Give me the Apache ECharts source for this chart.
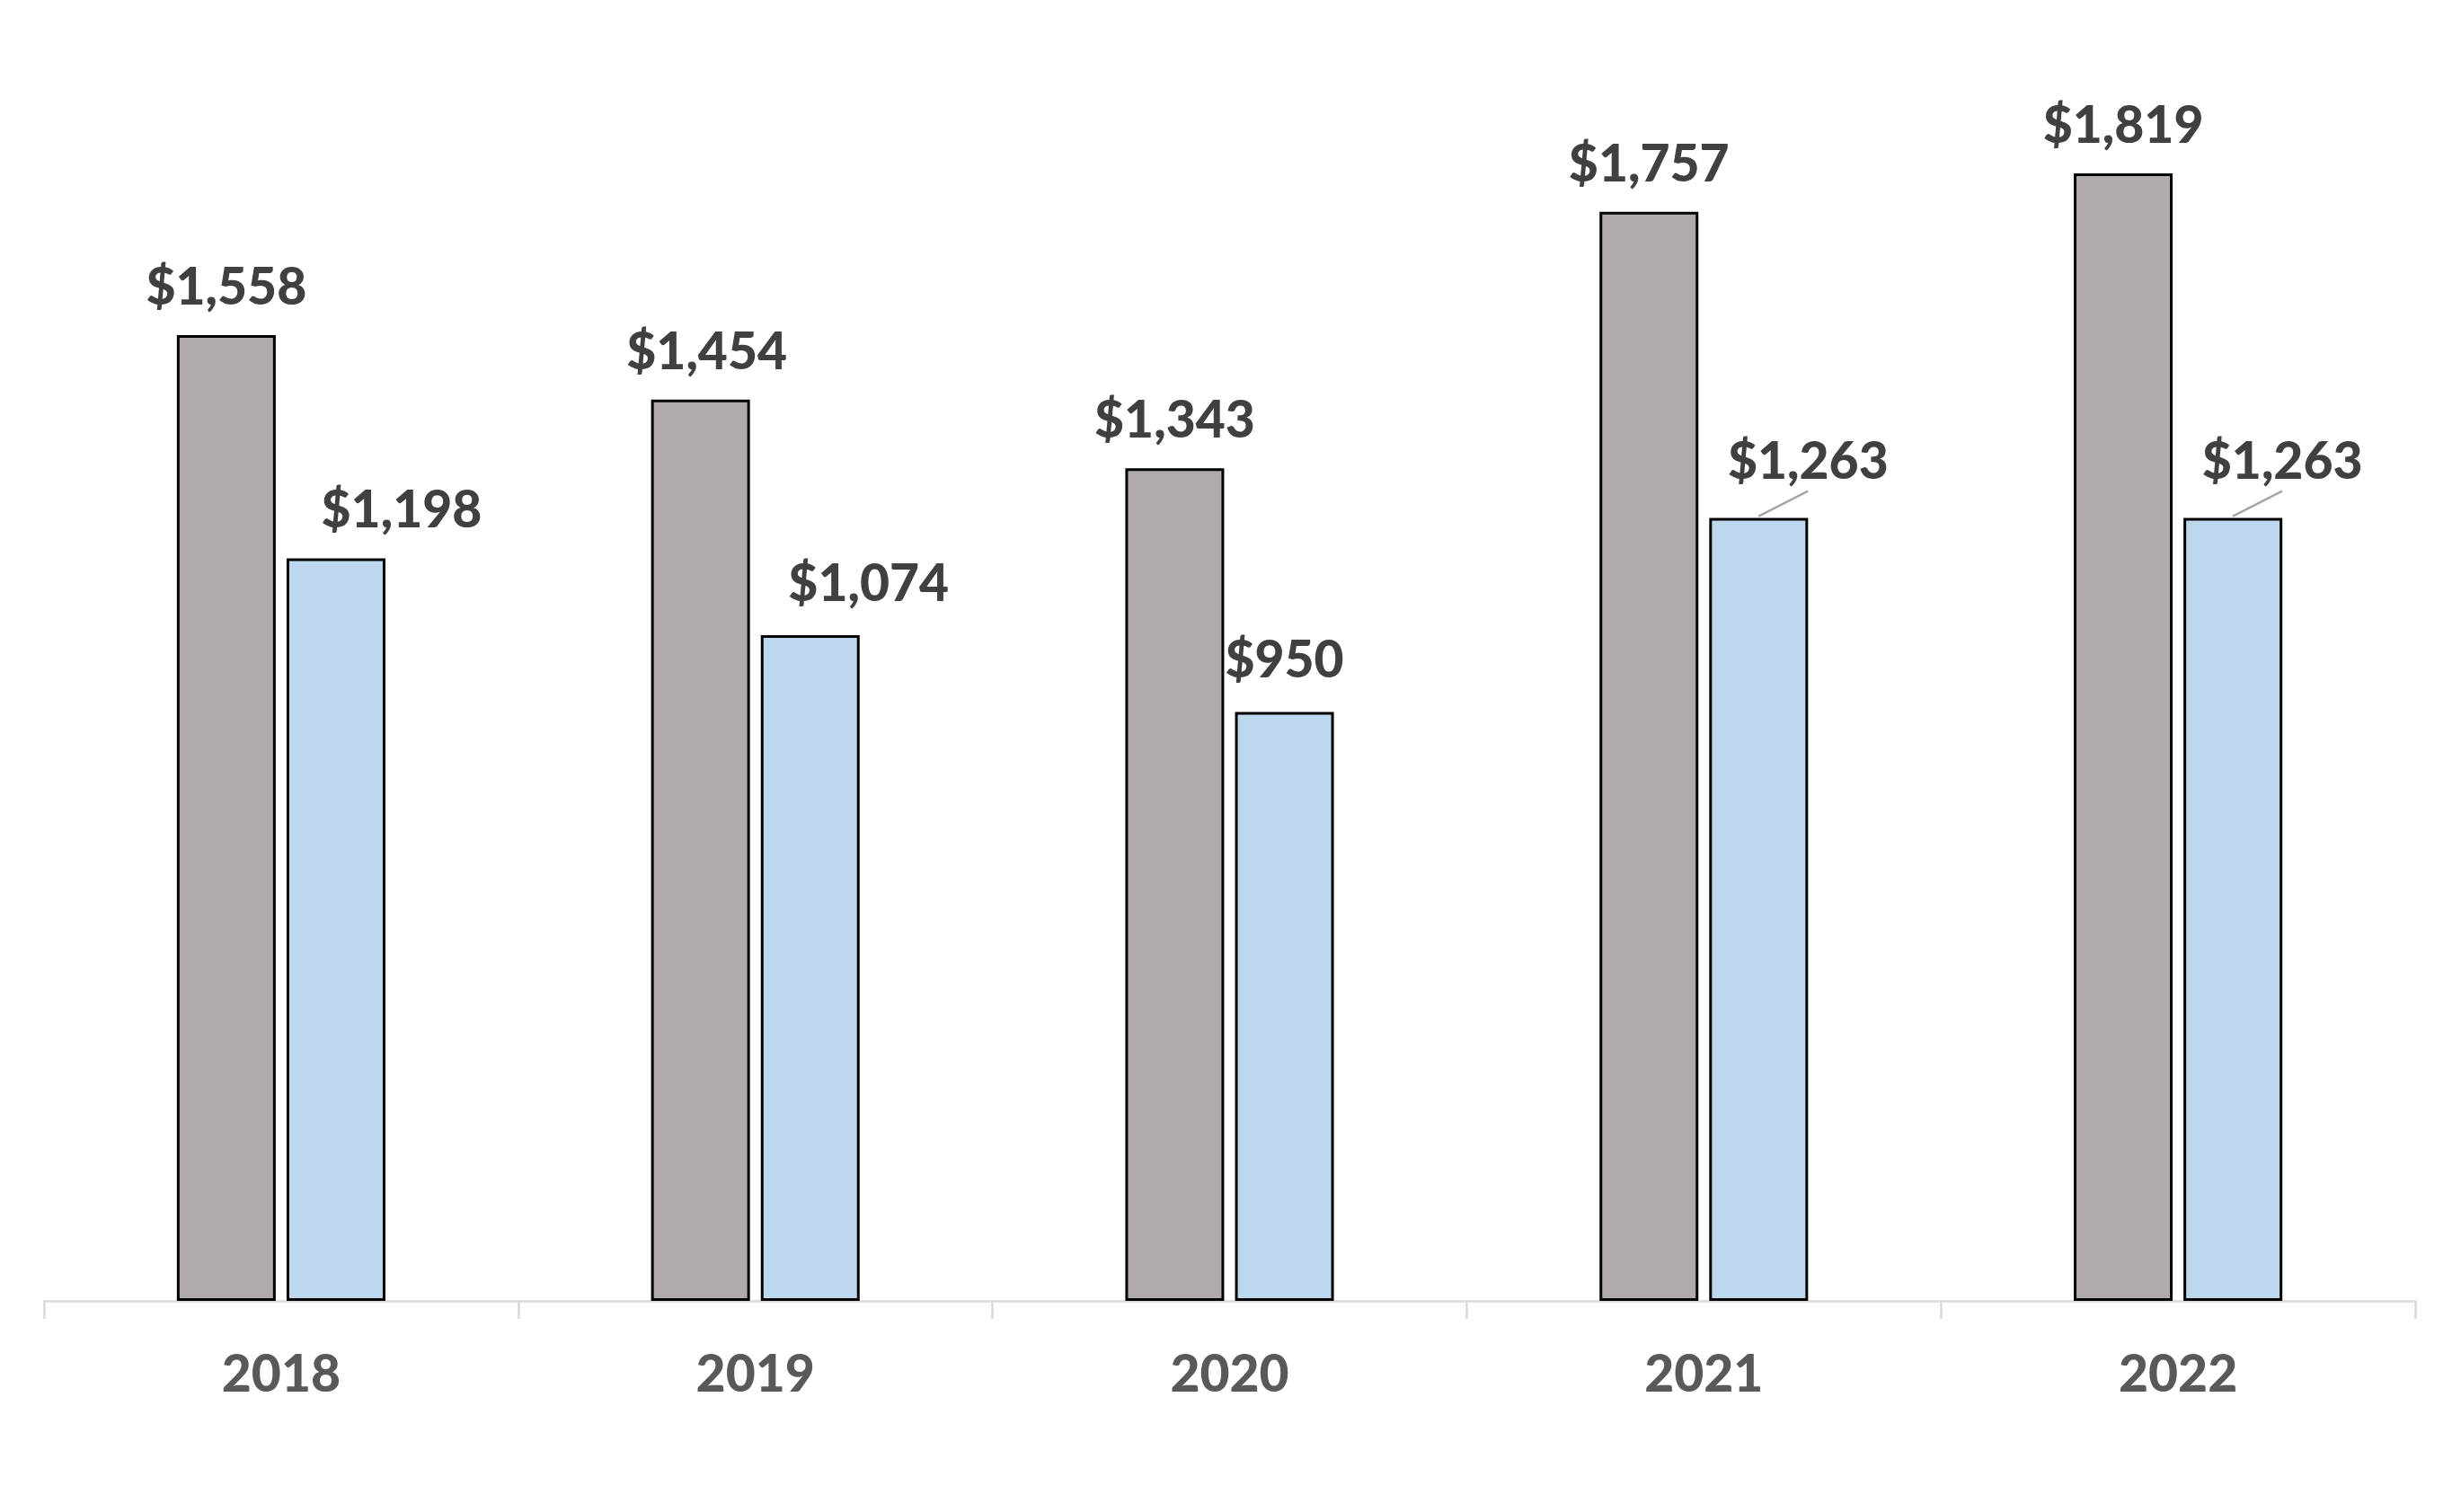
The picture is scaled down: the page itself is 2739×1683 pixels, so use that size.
<!DOCTYPE html>
<html>
<head>
<meta charset="utf-8">
<script src="https://cdn.jsdelivr.net/npm/echarts@6/dist/echarts.min.js"></script>
<style>
html,body{margin:0;padding:0;background:#fff;}
#chart{width:2739px;height:1683px;}
</style>
</head>
<body>
<div id="chart"></div>
<script>
const categories = ['2018', '2019', '2020', '2021', '2022'];
const seriesGray = [1558, 1454, 1343, 1757, 1819];
const seriesBlue = [1198, 1074, 950, 1263, 1263];

const fmt = v => '$' + v.toLocaleString('en-US');

// label nudges (style) as in the reference
const grayShift = [[0, 0], [7, 0], [0, 0], [0, 0], [0, 0]];
const blueShift = [[73, 0], [65, -4], [0, -4], [55, -9], [55, -9]];
const blueLeader = [false, false, false, true, true];

const chart = echarts.init(document.getElementById('chart'));

const labelStyle = {
  show: true,
  position: 'top',
  distance: 24,
  fontFamily: 'Lato',
  fontWeight: 900,
  fontSize: 57,
  color: '#404040',
  formatter: p => fmt(p.value)
};

const option = {
  animation: false,
  backgroundColor: '#ffffff',
  grid: { left: 49, right: 51, top: 68, bottom: 235, containLabel: false },
  xAxis: {
    type: 'category',
    data: categories,
    boundaryGap: true,
    axisLine: { show: true, lineStyle: { color: '#d9d9d9', width: 2.5 } },
    axisTick: { show: true, length: 20, lineStyle: { color: '#d9d9d9', width: 2.5 } },
    axisLabel: {
      margin: 54,
      fontFamily: 'Lato',
      fontWeight: 900,
      fontSize: 57,
      color: '#595959'
    },
    splitLine: { show: false }
  },
  yAxis: {
    type: 'value',
    min: 0,
    max: 2000,
    show: false,
    splitLine: { show: false }
  },
  series: [
    {
      name: 'Gray',
      type: 'bar',
      barWidth: 110,
      barGap: '11%',
      itemStyle: { color: '#AFABAB', borderColor: '#000000', borderWidth: 3 },
      label: labelStyle,
      data: seriesGray.map((v, i) => ({
        value: v,
        label: { offset: grayShift[i] }
      }))
    },
    {
      name: 'Blue',
      type: 'bar',
      barWidth: 110,
      barGap: '11%',
      itemStyle: { color: '#BDD7EE', borderColor: '#000000', borderWidth: 3 },
      label: labelStyle,
      data: seriesBlue.map((v, i) => ({
        value: v,
        label: { offset: blueShift[i] }
      }))
    },
    {
      name: 'Leader',
      type: 'custom',
      silent: true,
      z: 5,
      data: seriesBlue.map((v, i) => [i, v]).filter((d, i) => blueLeader[i]),
      renderItem: function (params, api) {
        const p = api.coord([api.value(0), api.value(1)]);
        const band = api.size([1, 0])[0];
        const cx = p[0] + band * 0.1155;
        const x2 = cx + band * 0.104;
        return {
          type: 'line',
          shape: { x1: cx, y1: p[1] - 2, x2: x2, y2: p[1] - 30 },
          style: { stroke: '#a6a6a6', lineWidth: 2.5 }
        };
      }
    }
  ]
};

chart.setOption(option);
</script>
</body>
</html>
